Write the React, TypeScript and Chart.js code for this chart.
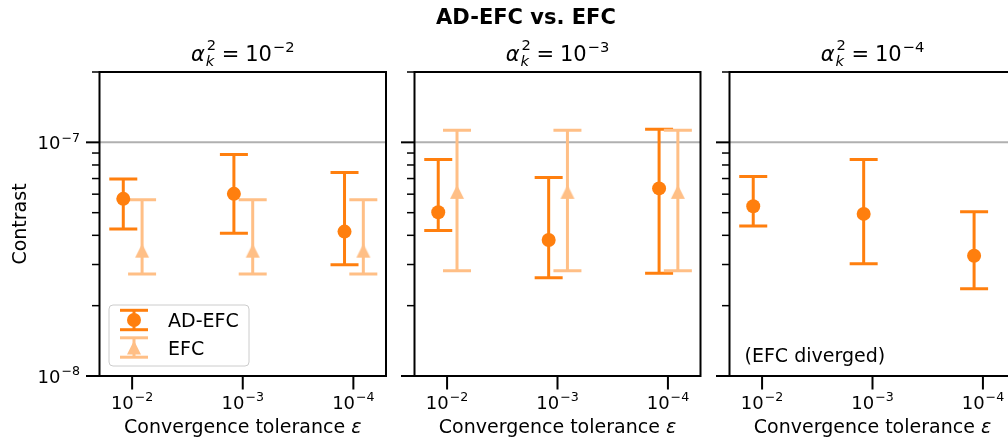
import React, { useEffect, useRef } from 'react';
import { Chart, registerables } from 'chart.js';

Chart.register(...registerables);

const FONT_FAMILY = '"DejaVu Sans", "Liberation Sans", sans-serif';
const ORANGE = '#ff7f0e';
const LIGHT_ORANGE = '#ffbf86';
const REF_GREY = '#b0b0b0';

// ---- data ----
const SUPTITLE = 'AD-EFC vs. EFC';
const SERIES_LABELS = ['AD-EFC', 'EFC'];
const X_TITLE = 'Convergence tolerance ';
const X_TITLE_SYMBOL = 'ε';
const Y_TITLE = 'Contrast';
const NOTE_DIVERGED = '(EFC diverged)';

// x categories: convergence tolerance epsilon = 10^exp
const TOLERANCE_EXPONENTS = ['−2', '−3', '−4'];
// panels: alpha_k^2 = 10^exp
const ALPHA_EXPONENTS = ['−2', '−3', '−4'];

const Y_MIN = 1e-8;
const Y_MAX = 2e-7;
const Y_MAJOR_TICKS = [1e-8, 1e-7];
const Y_MAJOR_EXPONENTS = ['−8', '−7'];
const Y_MINOR_TICKS = [2e-8, 3e-8, 4e-8, 5e-8, 6e-8, 7e-8, 8e-8, 9e-8, 2e-7];
const REFERENCE_CONTRAST = 1e-7;

const AD_EFC_OFFSET = -0.08;
const EFC_OFFSET = 0.09;

// alpha^2 = 1e-2
const AD_EFC_A2_MEAN = [5.73e-8, 6.02e-8, 4.15e-8];
const AD_EFC_A2_LOW = [4.26e-8, 4.08e-8, 2.99e-8];
const AD_EFC_A2_HIGH = [6.97e-8, 8.86e-8, 7.43e-8];
const EFC_A2_MEAN = [3.44e-8, 3.44e-8, 3.44e-8];
const EFC_A2_LOW = [2.73e-8, 2.73e-8, 2.73e-8];
const EFC_A2_HIGH = [5.68e-8, 5.68e-8, 5.68e-8];

// alpha^2 = 1e-3
const AD_EFC_A3_MEAN = [5.02e-8, 3.82e-8, 6.35e-8];
const AD_EFC_A3_LOW = [4.19e-8, 2.63e-8, 2.75e-8];
const AD_EFC_A3_HIGH = [8.45e-8, 7.08e-8, 1.137e-7];
const EFC_A3_MEAN = [6.14e-8, 6.14e-8, 6.14e-8];
const EFC_A3_LOW = [2.82e-8, 2.82e-8, 2.82e-8];
const EFC_A3_HIGH = [1.126e-7, 1.126e-7, 1.126e-7];

// alpha^2 = 1e-4 (EFC diverged)
const AD_EFC_A4_MEAN = [5.33e-8, 4.94e-8, 3.27e-8];
const AD_EFC_A4_LOW = [4.39e-8, 3.02e-8, 2.36e-8];
const AD_EFC_A4_HIGH = [7.15e-8, 8.45e-8, 5.04e-8];

// ---- layout (not data) ----
const X_MIN = -0.295;
const X_MAX = 2.295;
const PAD_TOP = 72;
const PAD_BOTTOM = 64;
const CANVAS_H = 440;
const TICK_SIZE = 18;
const LABEL_SIZE = 19;
const TITLE_SIZE = 21;

type Series = { mean: number[]; low: number[]; high: number[] };
type PanelCfg = {
  alphaExp: string;
  ad: Series;
  efc: Series | null;
  yLabels: boolean;
  legend: boolean;
  note: string | null;
  left: number;
  width: number;
  padLeft: number;
  padRight: number;
};

const PANELS: PanelCfg[] = [
  {
    alphaExp: ALPHA_EXPONENTS[0],
    ad: { mean: AD_EFC_A2_MEAN, low: AD_EFC_A2_LOW, high: AD_EFC_A2_HIGH },
    efc: { mean: EFC_A2_MEAN, low: EFC_A2_LOW, high: EFC_A2_HIGH },
    yLabels: true, legend: true, note: null,
    left: 0, width: 400, padLeft: 99.5, padRight: 14,
  },
  {
    alphaExp: ALPHA_EXPONENTS[1],
    ad: { mean: AD_EFC_A3_MEAN, low: AD_EFC_A3_LOW, high: AD_EFC_A3_HIGH },
    efc: { mean: EFC_A3_MEAN, low: EFC_A3_LOW, high: EFC_A3_HIGH },
    yLabels: false, legend: false, note: null,
    left: 400, width: 316, padLeft: 14.5, padRight: 15.5,
  },
  {
    alphaExp: ALPHA_EXPONENTS[2],
    ad: { mean: AD_EFC_A4_MEAN, low: AD_EFC_A4_LOW, high: AD_EFC_A4_HIGH },
    efc: null,
    yLabels: false, legend: false, note: NOTE_DIVERGED,
    left: 715, width: 316, padLeft: 14.5, padRight: 15.5,
  },
];

function makeTriangle(color: string, size: number): HTMLCanvasElement {
  const c = document.createElement('canvas');
  c.width = size + 2;
  c.height = size + 2;
  const g = c.getContext('2d')!;
  g.fillStyle = color;
  g.beginPath();
  g.moveTo(1 + size / 2, 1);
  g.lineTo(1 + size, 1 + size);
  g.lineTo(1, 1 + size);
  g.closePath();
  g.fill();
  return c;
}

function line(ctx: CanvasRenderingContext2D, x1: number, y1: number, x2: number, y2: number) {
  ctx.beginPath();
  ctx.moveTo(x1, y1);
  ctx.lineTo(x2, y2);
  ctx.stroke();
}

function drawPow(ctx: CanvasRenderingContext2D, x: number, baseline: number, exp: string, align: 'center' | 'right') {
  const size = TICK_SIZE;
  const sup = size * 0.7;
  ctx.font = `${size}px ${FONT_FAMILY}`;
  const wBase = ctx.measureText('10').width;
  ctx.font = `${sup}px ${FONT_FAMILY}`;
  const wExp = ctx.measureText(exp).width;
  const gap = 1;
  const total = wBase + gap + wExp;
  const x0 = align === 'center' ? x - total / 2 : x - total;
  ctx.textAlign = 'left';
  ctx.textBaseline = 'alphabetic';
  ctx.fillStyle = '#000';
  ctx.font = `${size}px ${FONT_FAMILY}`;
  ctx.fillText('10', x0, baseline);
  ctx.font = `${sup}px ${FONT_FAMILY}`;
  ctx.fillText(exp, x0 + wBase + gap, baseline - 7.7);
}

function drawAlphaTitle(ctx: CanvasRenderingContext2D, cx: number, baseline: number, exp: string) {
  const F = TITLE_SIZE;
  const S = F * 0.7;
  const fN = `${F}px ${FONT_FAMILY}`;
  const fI = `italic ${F}px ${FONT_FAMILY}`;
  const sN = `${S}px ${FONT_FAMILY}`;
  const sI = `italic ${S}px ${FONT_FAMILY}`;
  ctx.font = fI; const wA = ctx.measureText('α').width;
  ctx.font = sN; const w2 = ctx.measureText('2').width;
  ctx.font = sI; const wk = ctx.measureText('k').width;
  ctx.font = fN; const wEq = ctx.measureText('=').width; const w10 = ctx.measureText('10').width;
  ctx.font = sN; const wExp = ctx.measureText(exp).width;
  const sp = 0.27 * F;
  const scriptW = Math.max(w2, wk) + 1;
  const total = wA + 1 + scriptW + sp + wEq + sp + w10 + 1 + wExp;
  let x = cx - total / 2;
  ctx.fillStyle = '#000';
  ctx.textAlign = 'left';
  ctx.textBaseline = 'alphabetic';
  ctx.font = fI; ctx.fillText('α', x, baseline); x += wA + 1;
  ctx.font = sN; ctx.fillText('2', x + 1, baseline - 10.5);
  ctx.font = sI; ctx.fillText('k', x, baseline + 5.5);
  x += scriptW + sp;
  ctx.font = fN; ctx.fillText('=', x, baseline); x += wEq + sp;
  ctx.fillText('10', x, baseline); x += w10 + 1;
  ctx.font = sN; ctx.fillText(exp, x, baseline - 8.5);
}

function drawErrorGlyph(ctx: CanvasRenderingContext2D, cx: number, cy: number, lo: number, hi: number, color: string, marker: 'circle' | 'triangle' | null) {
  ctx.strokeStyle = color;
  ctx.lineWidth = 3;
  line(ctx, cx, lo, cx, hi);
  line(ctx, cx - 14, lo, cx + 14, lo);
  line(ctx, cx - 14, hi, cx + 14, hi);
  if (marker) {
    ctx.fillStyle = color;
    ctx.beginPath();
    if (marker === 'circle') {
      ctx.arc(cx, cy, 7, 0, Math.PI * 2);
    } else {
      ctx.moveTo(cx, cy - 7);
      ctx.lineTo(cx + 7, cy + 7);
      ctx.lineTo(cx - 7, cy + 7);
      ctx.closePath();
    }
    ctx.fill();
  }
}

function panelPlugin(cfg: PanelCfg) {
  return {
    id: 'panelDecor',
    beforeDatasetsDraw(chart: any) {
      const { ctx, chartArea: a, scales } = chart;
      const x = scales.x;
      const y = scales.y;
      ctx.save();
      ctx.beginPath();
      ctx.rect(a.left, a.top, a.right - a.left, a.bottom - a.top);
      ctx.clip();
      const yr = y.getPixelForValue(REFERENCE_CONTRAST);
      ctx.strokeStyle = REF_GREY;
      ctx.lineWidth = 2;
      line(ctx, a.left, yr, a.right, yr);
      chart.data.datasets.forEach((ds: any) => {
        ds.data.forEach((pt: any, i: number) => {
          const px = x.getPixelForValue(pt.x);
          const lo = y.getPixelForValue(ds.errLow[i]);
          const hi = y.getPixelForValue(ds.errHigh[i]);
          drawErrorGlyph(ctx, px, 0, lo, hi, ds.errColor, null);
        });
      });
      ctx.restore();
    },
    afterDatasetsDraw(chart: any) {
      const { ctx, chartArea: a, scales } = chart;
      const x = scales.x;
      const y = scales.y;
      ctx.save();
      // frame
      ctx.strokeStyle = '#000';
      ctx.lineWidth = 2;
      ctx.strokeRect(a.left, a.top, a.right - a.left, a.bottom - a.top);
      // y ticks
      Y_MINOR_TICKS.forEach((v) => {
        const py = y.getPixelForValue(v);
        ctx.lineWidth = 1.5;
        line(ctx, a.left - 7.5, py, a.left, py);
      });
      Y_MAJOR_TICKS.forEach((v, i) => {
        const py = y.getPixelForValue(v);
        ctx.lineWidth = 2;
        line(ctx, a.left - 13.5, py, a.left, py);
        if (cfg.yLabels) drawPow(ctx, a.left - 13.5 - 6, py + 7, Y_MAJOR_EXPONENTS[i], 'right');
      });
      // x ticks
      TOLERANCE_EXPONENTS.forEach((e, i) => {
        const px = x.getPixelForValue(i);
        ctx.strokeStyle = '#000';
        ctx.lineWidth = 2;
        line(ctx, px, a.bottom, px, a.bottom + 13.5);
        drawPow(ctx, px, a.bottom + 33, e, 'center');
      });
      const cx = (a.left + a.right) / 2;
      // x title
      ctx.fillStyle = '#000';
      ctx.textBaseline = 'alphabetic';
      ctx.font = `${LABEL_SIZE}px ${FONT_FAMILY}`;
      const wT = ctx.measureText(X_TITLE).width;
      ctx.font = `italic ${LABEL_SIZE}px ${FONT_FAMILY}`;
      const wE = ctx.measureText(X_TITLE_SYMBOL).width;
      const tx = cx - (wT + wE) / 2;
      ctx.textAlign = 'left';
      ctx.font = `${LABEL_SIZE}px ${FONT_FAMILY}`;
      ctx.fillText(X_TITLE, tx, 433);
      ctx.font = `italic ${LABEL_SIZE}px ${FONT_FAMILY}`;
      ctx.fillText(X_TITLE_SYMBOL, tx + wT, 433);
      // y title
      if (cfg.yLabels) {
        ctx.save();
        ctx.translate(25.5, (a.top + a.bottom) / 2);
        ctx.rotate(-Math.PI / 2);
        ctx.textAlign = 'center';
        ctx.font = `${LABEL_SIZE}px ${FONT_FAMILY}`;
        ctx.fillText(Y_TITLE, 0, 0);
        ctx.restore();
      }
      // panel title
      drawAlphaTitle(ctx, cx, 60.7, cfg.alphaExp);
      // legend
      if (cfg.legend) {
        const bw = 140, bh = 61;
        const bx = a.left + 9.5;
        const by = a.bottom - 10 - bh;
        ctx.beginPath();
        (ctx as any).roundRect(bx, by, bw, bh, 4);
        ctx.fillStyle = 'rgba(255,255,255,0.8)';
        ctx.fill();
        ctx.strokeStyle = '#cccccc';
        ctx.lineWidth = 1;
        ctx.stroke();
        const rows = [
          { label: SERIES_LABELS[0], color: ORANGE, marker: 'circle' as const, cy: by + 15 },
          { label: SERIES_LABELS[1], color: LIGHT_ORANGE, marker: 'triangle' as const, cy: by + 42.5 },
        ];
        rows.forEach((r) => {
          const hx = bx + 25;
          drawErrorGlyph(ctx, hx, r.cy, r.cy + 9.7, r.cy - 9.7, r.color, r.marker);
          ctx.fillStyle = '#000';
          ctx.font = `${LABEL_SIZE}px ${FONT_FAMILY}`;
          ctx.textAlign = 'left';
          ctx.fillText(r.label, bx + 59, r.cy + 7);
        });
      }
      if (cfg.note) {
        ctx.fillStyle = '#000';
        ctx.font = `${LABEL_SIZE}px ${FONT_FAMILY}`;
        ctx.textAlign = 'left';
        ctx.fillText(cfg.note, a.left + 15, a.bottom - 14);
      }
      ctx.restore();
    },
  };
}

function Panel({ cfg }: { cfg: PanelCfg }) {
  const ref = useRef<HTMLCanvasElement | null>(null);
  useEffect(() => {
    if (!ref.current) return;
    const tri = makeTriangle(LIGHT_ORANGE, 14);
    const datasets: any[] = [
      {
        label: SERIES_LABELS[0],
        data: cfg.ad.mean.map((v, i) => ({ x: i + AD_EFC_OFFSET, y: v })),
        errLow: cfg.ad.low,
        errHigh: cfg.ad.high,
        errColor: ORANGE,
        pointStyle: 'circle',
        pointRadius: 7,
        backgroundColor: ORANGE,
        borderWidth: 0,
        showLine: false,
      },
    ];
    if (cfg.efc) {
      datasets.push({
        label: SERIES_LABELS[1],
        data: cfg.efc.mean.map((v, i) => ({ x: i + EFC_OFFSET, y: v })),
        errLow: cfg.efc.low,
        errHigh: cfg.efc.high,
        errColor: LIGHT_ORANGE,
        pointStyle: tri,
        pointRadius: 8,
        backgroundColor: LIGHT_ORANGE,
        borderWidth: 0,
        showLine: false,
      });
    }
    const chart = new Chart(ref.current, {
      type: 'scatter',
      data: { datasets },
      options: {
        animation: false,
        responsive: false,
        maintainAspectRatio: false,
        events: [],
        layout: { padding: { left: cfg.padLeft, right: cfg.padRight, top: PAD_TOP, bottom: PAD_BOTTOM } },
        scales: {
          x: { type: 'linear', min: X_MIN, max: X_MAX, display: false },
          y: { type: 'logarithmic', min: Y_MIN, max: Y_MAX, display: false },
        },
        plugins: { legend: { display: false }, tooltip: { enabled: false }, title: { display: false } },
      } as any,
      plugins: [panelPlugin(cfg)],
    });
    return () => chart.destroy();
  }, [cfg]);
  return (
    <canvas
      ref={ref}
      width={cfg.width}
      height={CANVAS_H}
      style={{ position: 'absolute', left: cfg.left, top: 0, width: cfg.width, height: CANVAS_H }}
    />
  );
}

export default function App() {
  return (
    <div style={{ position: 'absolute', left: 0, top: 0, width: 1008, height: 440, overflow: 'hidden', background: '#fff' }}>
      {PANELS.map((p, i) => (
        <Panel key={i} cfg={p} />
      ))}
      <div
        style={{
          position: 'absolute', left: 326, top: 7, width: 400, textAlign: 'center',
          font: `bold 21px ${FONT_FAMILY}`, lineHeight: '21px', color: '#000', whiteSpace: 'nowrap',
        }}
      >
        {SUPTITLE}
      </div>
    </div>
  );
}
